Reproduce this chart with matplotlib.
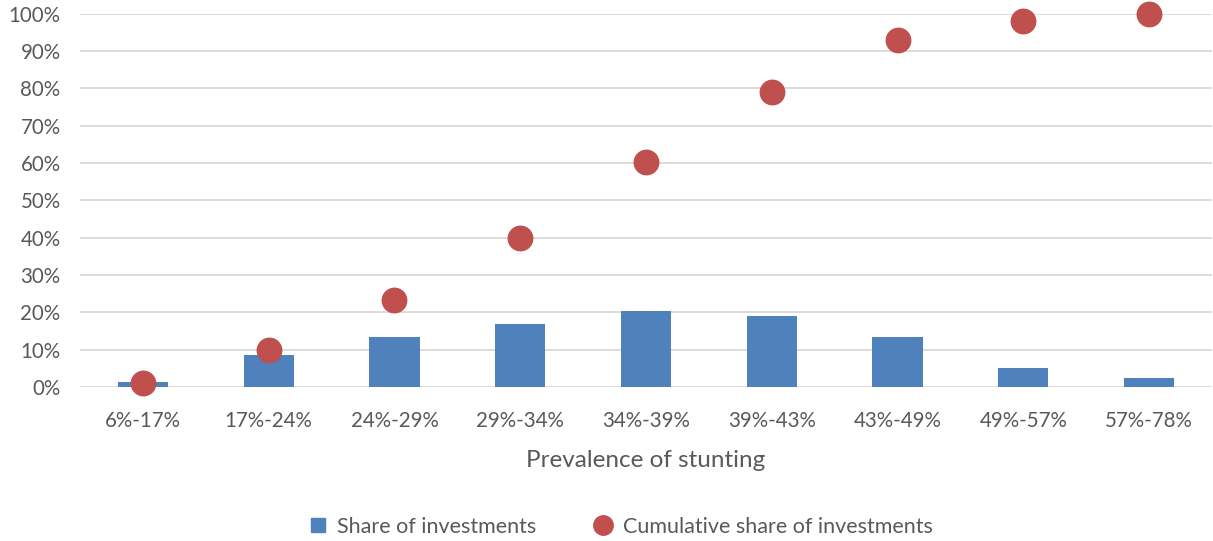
import matplotlib.pyplot as plt
from matplotlib.lines import Line2D
from matplotlib.ticker import PercentFormatter

# Data
categories = ["6%-17%", "17%-24%", "24%-29%", "29%-34%", "34%-39%",
              "39%-43%", "43%-49%", "49%-57%", "57%-78%"]
share = [1.3, 8.6, 13.4, 16.8, 20.3, 19.0, 13.4, 5.1, 2.4]
cumulative = [1.2, 9.9, 23.3, 39.9, 60.2, 79.1, 92.8, 97.9, 100.0]

BLUE = "#4F81BD"
RED = "#C0504D"
GREY = "#595959"

plt.rcParams['font.family'] = ['Lato', 'DejaVu Sans']

fig = plt.figure(figsize=(12.13, 5.41), dpi=100)
ax = fig.add_axes([80 / 1213, 1 - 387 / 541, 1132 / 1213, (387 - 13.5) / 541])

x = list(range(len(categories)))
ax.bar(x, share, width=0.4, color=BLUE, zorder=2)
ax.scatter(x, cumulative, s=310, color=RED, zorder=3, clip_on=False)

ax.set_xlim(-0.5, len(categories) - 0.5)
ax.set_ylim(0, 100)
ax.set_yticks(range(0, 101, 10))
ax.yaxis.set_major_formatter(PercentFormatter(decimals=0))
ax.set_xticks(x)
ax.set_xticklabels(categories)
ax.grid(axis='y', color="#D9D9D9", linewidth=1.3, zorder=0)
ax.set_axisbelow(True)
for s in ax.spines.values():
    s.set_visible(False)
ax.tick_params(axis='both', length=0, labelsize=14.8, colors=GREY)
ax.tick_params(axis='y', pad=14)
ax.tick_params(axis='x', pad=17)
ax.set_xlabel("Prevalence of stunting", fontsize=17.5, color=GREY, labelpad=14)

handles = [
    Line2D([], [], marker='s', linestyle='none', color=BLUE, markersize=9.5),
    Line2D([], [], marker='o', linestyle='none', color=RED, markersize=14),
]
fig.legend(handles, ["Share of investments", "Cumulative share of investments"],
           loc='center', bbox_to_anchor=(620 / 1213, 1 - 527 / 541), ncol=2,
           frameon=False, fontsize=15.5, labelcolor=GREY,
           handletextpad=0.4, columnspacing=2.6, handlelength=1.0)

fig.savefig("out.png", dpi=100)
